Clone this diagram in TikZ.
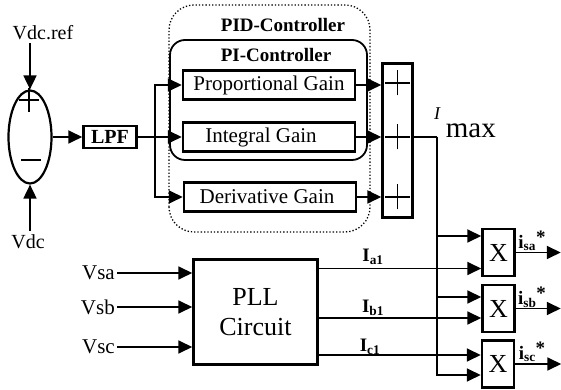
\documentclass[tikz,border=0pt]{standalone}
\usepackage{fontspec}
\setmainfont{Liberation Serif}
\usepackage{tikz}
\usetikzlibrary{arrows.meta,positioning,shapes.geometric}

\begin{document}
\begin{tikzpicture}[
  x=1pt,y=1pt,
  box/.style={draw,line width=2.5pt,inner sep=0pt,font=\fontsize{21}{24}\selectfont},
  gain/.style={box,minimum width=172pt,minimum height=29pt},
  mult/.style={box,minimum width=32pt,minimum height=47pt,font=\fontsize{26}{26}\selectfont},
  lbl/.style={inner sep=0pt,font=\fontsize{20}{24}\selectfont},
  bold/.style={inner sep=0pt,font=\fontsize{19}{22}\selectfont\bfseries},
  wire/.style={line width=1.8pt},
  arrow/.style={wire,-{Triangle[length=14pt,width=13pt]}}
]
  \useasboundingbox (0,0) rectangle (561,390);

  \node[draw,ellipse,line width=2.2pt,minimum width=43pt,minimum height=93pt,inner sep=0pt] (err) at (30,253) {};
  \draw[wire] (19,290) -- (39,290) (29,278) -- (29,302);
  \draw[wire] (21,230) -- (41,230);
  \node[lbl] (vref) at (43,357) {Vdc.ref};
  \node[lbl] (vdc) at (28,148) {Vdc};
  \draw[arrow] ([yshift=-3pt]vref.south -| err.north) -- (err.north);
  \draw[arrow] ([yshift=4pt]vdc.north -| err.south) -- (err.south);

  \node[box,minimum width=53pt,minimum height=22pt,font=\fontsize{20}{22}\selectfont\bfseries] (lpf) at (110,253) {LPF};
  \draw[arrow] (err) -- (lpf);

  \draw[line width=1.8pt,rounded corners=15pt] (170,230) rectangle (367,350);
  \draw[line width=1.3pt,dotted,rounded corners=25pt] (169,158) rectangle (370,385);
  \node[bold] (pilbl) at (276,335) {PI-Controller};
  \node[bold] (pidlbl) at (283,365) {PID-Controller};

  \node[gain] (prop) at (269,305) {Proportional Gain};
  \node[gain] (integ) at (269,253) {\hspace*{-16pt}Integral Gain};
  \node[gain] (deriv) at (270,193) {\hspace*{-6pt}Derivative Gain};
  \coordinate (split) at (155,253);
  \draw[wire] (lpf) -- (split);
  \draw[arrow] (split) |- (prop);
  \draw[arrow] (split) -- (integ);
  \draw[arrow] (split) |- (deriv);

  \node[box,minimum width=30pt,minimum height=154pt] (add) at (397.5,249.5) {};
  \foreach \y in {307,253,193}
    \draw[wire] (385,\y) -- (410,\y) (397.5,\y-12.5) -- (397.5,\y+12.5);
  \draw[arrow] (prop.east) -- (prop.east -| add.west);
  \draw[arrow] (integ.east) -- (integ.east -| add.west);
  \draw[arrow] (deriv.east) -- (deriv.east -| add.west);

  \node[anchor=base west,inner sep=0pt] (imax) at (434,270) {\fontsize{18}{18}\selectfont\textit{I}\hspace{5pt}\raisebox{-18pt}{\fontsize{29}{29}\selectfont max}};

  \node[mult] (xa) at (498.5,137.5) {X};
  \node[mult] (xb) at (498.5,81.5) {X};
  \node[mult] (xc) at (498,26) {X};
  \coordinate (bus) at (437,253);
  \draw[wire] (integ.east -| add.east) -- (bus);
  \draw[arrow] (bus) |- ([yshift=16.5pt]xa.west);
  \draw[arrow] (bus) |- ([yshift=11.5pt]xb.west);
  \draw[arrow] (bus) |- ([yshift=-11pt]xc.west);

  \node[box,minimum width=124pt,minimum height=105pt,align=center,font=\fontsize{26}{30}\selectfont] (pll) at (255.5,78) {PLL\\Circuit};
  \node[lbl,anchor=east,font=\fontsize{21}{24}\selectfont] (vsa) at (115,117) {Vsa};
  \node[lbl,anchor=east,font=\fontsize{21}{24}\selectfont] (vsb) at (115,83) {Vsb};
  \node[lbl,anchor=east,font=\fontsize{21}{24}\selectfont] (vsc) at (115,43) {Vsc};
  \draw[arrow] ([xshift=2pt]vsa.east) -- (vsa.east -| pll.west);
  \draw[arrow] ([xshift=2pt]vsb.east) -- (vsb.east -| pll.west);
  \draw[arrow] ([xshift=2pt]vsc.east) -- (vsc.east -| pll.west);

  \draw[arrow] ([yshift=-16pt]xa.west -| pll.east) -- ([yshift=-16pt]xa.west);
  \draw[arrow] ([yshift=-9.5pt]xb.west -| pll.east) -- ([yshift=-9.5pt]xb.west);
  \draw[arrow] ([yshift=9pt]xc.west -| pll.east) -- ([yshift=9pt]xc.west);
  \node[bold] (ia) at (373,133) {I\textsubscript{a1}};
  \node[bold] (ib) at (373,82) {I\textsubscript{b1}};
  \node[bold] (ic) at (370,43) {I\textsubscript{c1}};

  \draw[arrow] (xa.east) -- ([xshift=45pt]xa.east);
  \draw[arrow] (xb.east) -- ([xshift=45pt]xb.east);
  \draw[arrow] (xc.east) -- ([xshift=46pt]xc.east);
  \node[bold] (isa) at (532,149) {i\textsubscript{sa}\raisebox{5pt}{*}};
  \node[bold] (isb) at (532,93) {i\textsubscript{sb}\raisebox{5pt}{*}};
  \node[bold] (isc) at (532,38) {i\textsubscript{sc}\raisebox{5pt}{*}};
\end{tikzpicture}
\end{document}
